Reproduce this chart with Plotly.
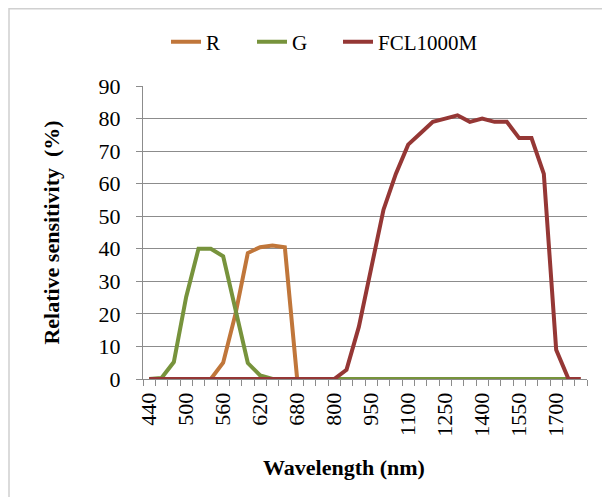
import plotly.graph_objects as go

wavelengths = [440, 460, 480, 500, 520, 540, 560, 580, 600, 620, 640, 660, 680, 700, 750,
               800, 850, 900, 950, 1000, 1050, 1100, 1150, 1200, 1250, 1300, 1350, 1400,
               1450, 1500, 1550, 1600, 1650, 1700, 1750, 1800]
r_vals = [0, 0, 0, 0, 0, 0, 5, 20, 38.7, 40.5, 41, 40.5, 0, 0, 0,
          0, 0, 0, 0, 0, 0, 0, 0, 0, 0, 0, 0, 0,
          0, 0, 0, 0, 0, 0, 0, None]
g_vals = [0, 0.3, 5.2, 25.2, 40, 40, 37.7, 21, 4.9, 1.1, 0, 0, 0, 0, 0,
          0, 0, 0, 0, 0, 0, 0, 0, 0, 0, 0, 0, 0,
          0, 0, 0, 0, 0, 0, 0, None]
fcl_vals = [0, 0, 0, 0, 0, 0, 0, 0, 0, 0, 0, 0, 0, 0, 0,
            0, 2.8, 16, 34, 52, 63, 72, 75.5, 79, 80, 81, 79, 80,
            79, 79, 74, 74, 63, 9, 0, 0]
tick_labels = [str(w) for w in wavelengths]

x_idx = list(range(len(wavelengths)))
FONT = "Liberation Serif, Times New Roman, DejaVu Serif, serif"

# page has an 8px body margin; work in page pixels and convert
OFF = 8
W, H = 610 - OFF, 497 - OFF
L, T = 143 - OFF, 86 - OFF
R, B = W - (587 - OFF), H - (379 - OFF)
PW, PH = W - L - R, H - T - B


def px(xp):
    return (xp - OFF - L) / PW


def py(yp):
    return (H - B - (yp - OFF)) / PH


fig = go.Figure()
fig.add_trace(go.Scatter(x=x_idx, y=r_vals, name="R", mode="lines", legend="legend",
                         line=dict(color="#C0763A", width=4)))
fig.add_trace(go.Scatter(x=x_idx, y=g_vals, name="G", mode="lines", legend="legend2",
                         line=dict(color="#77933C", width=4)))
fig.add_trace(go.Scatter(x=x_idx, y=fcl_vals, name="FCL1000M", mode="lines", legend="legend3",
                         line=dict(color="#953735", width=4)))

leg_common = dict(orientation="h", xanchor="left", yanchor="middle", itemwidth=30,
                  font=dict(family=FONT, size=21, color="black"), bgcolor="rgba(0,0,0,0)")

fig.update_layout(
    width=W, height=H,
    margin=dict(l=L, r=R, t=T, b=B, autoexpand=False),
    paper_bgcolor="white", plot_bgcolor="white",
    font=dict(family=FONT, color="black", size=21),
    showlegend=True,
    legend=dict(x=px(166), y=py(42), **leg_common),
    legend2=dict(x=px(252), y=py(42), **leg_common),
    legend3=dict(x=px(338), y=py(42), **leg_common),
    xaxis=dict(
        range=[-0.5, len(wavelengths) - 0.5],
        automargin=False,
        tickmode="array",
        tickvals=x_idx[::3], ticktext=tick_labels[::3],
        tickangle=-90, ticks="", ticklabelstandoff=4,
        showgrid=False, zeroline=False,
        showline=True, linecolor="#8c8c8c", linewidth=1,
        tickfont=dict(family=FONT, size=22, color="black"),
        minor=dict(ticks="outside", tickvals=[i - 0.5 for i in range(len(wavelengths) + 1)],
                   ticklen=6, tickcolor="#8c8c8c", showgrid=False),
    ),
    yaxis=dict(
        range=[0, 90], dtick=10,
        automargin=False,
        ticks="outside", ticklen=6, tickcolor="#8c8c8c", ticklabelstandoff=11,
        showgrid=True, gridcolor="#8c8c8c", gridwidth=1,
        zeroline=False,
        showline=True, linecolor="#8c8c8c", linewidth=1,
        tickfont=dict(family=FONT, size=22, color="black"),
        title=dict(text="<b>Relative sensitivity  (%)</b>",
                   font=dict(family=FONT, size=22, color="black"), standoff=32),
    ),
)

fig.add_annotation(text="<b>Wavelength (nm)</b>", xref="paper", yref="paper",
                   x=px(344), y=py(467), xanchor="center", yanchor="middle", showarrow=False,
                   font=dict(family=FONT, size=22, color="black"))

fig.add_shape(type="rect", xref="paper", yref="paper",
              x0=px(9), x1=px(608), y0=py(510), y1=(H - B - 0.75) / PH,
              line=dict(color="#d0d0d0", width=1.5), fillcolor="rgba(0,0,0,0)", layer="below")

fig.write_html("out.html")
